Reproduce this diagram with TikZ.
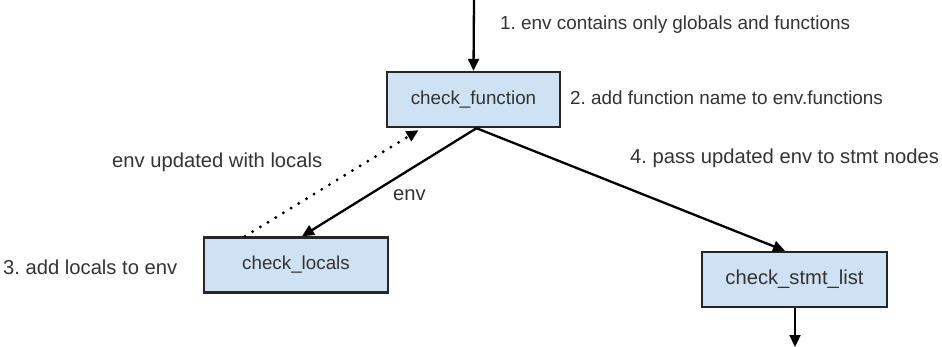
\documentclass[tikz,border=0pt]{standalone}
\usepackage{fontspec}
\setmainfont{Liberation Sans}
\usetikzlibrary{arrows.meta}
\definecolor{boxfill}{HTML}{CFE2F3}
\definecolor{txt}{HTML}{333333}
\tikzset{
  fnbox/.style={draw=black!85, line width=2.4pt, fill=boxfill, minimum width=#1, minimum height=55pt, inner sep=0pt, text=txt, font=\fontsize{18.8}{22}\selectfont},
  lbl/.style={anchor=west, inner sep=0pt, text=txt, font=\fontsize{18.9}{22}\selectfont},
  big/.style={font=\fontsize{20.2}{24}\selectfont},
  arr/.style={line width=2.3pt, -{Triangle[length=12pt,width=11pt]}},
  dotarr/.style={line width=3.2pt, dash pattern=on 0pt off 9pt, line cap=round, -{Triangle[length=12pt,width=11pt]}}
}
\begin{document}
\frenchspacing
\begin{tikzpicture}[x=1pt,y=-1pt]
\useasboundingbox (0,0) rectangle (942,347);
\node[fnbox=173pt] (fn) at (473.5,99.5) {check\_function};
\node[fnbox=184pt] (loc) at (296,265) {check\_locals};
\node[fnbox=185pt, big] (stmt) at (794.5,279.5) {check\_stmt\_list};
\coordinate (top) at (474,0);
\coordinate (bot) at (795,347);
\draw[arr] (top) -- (fn.north);
\draw[arr] ([xshift=3pt]fn.south) -- ([xshift=6pt]loc.north);
\draw[arr] ([xshift=3pt]fn.south) -- ([xshift=-9.5pt]stmt.north);
\draw[dotarr] ([xshift=-51pt]loc.north) -- ([xshift=-55pt,yshift=-2pt]fn.south);
\draw[arr] ([xshift=0.5pt]stmt.south) -- (bot);
\node[lbl] (l1) at (500,25) {1. env contains only globals and functions};
\node[lbl] (l2) at (570,98) {2. add function name to env.functions};
\node[lbl, big] (l3) at (3,267) {3. add locals to env};
\node[lbl, big] (l4) at (630,158) {4. pass updated env to stmt nodes};
\node[lbl, big] (lu) at (112,162) {env updated with locals};
\node[lbl, big] (le) at (393,195) {env};
\end{tikzpicture}
\end{document}
